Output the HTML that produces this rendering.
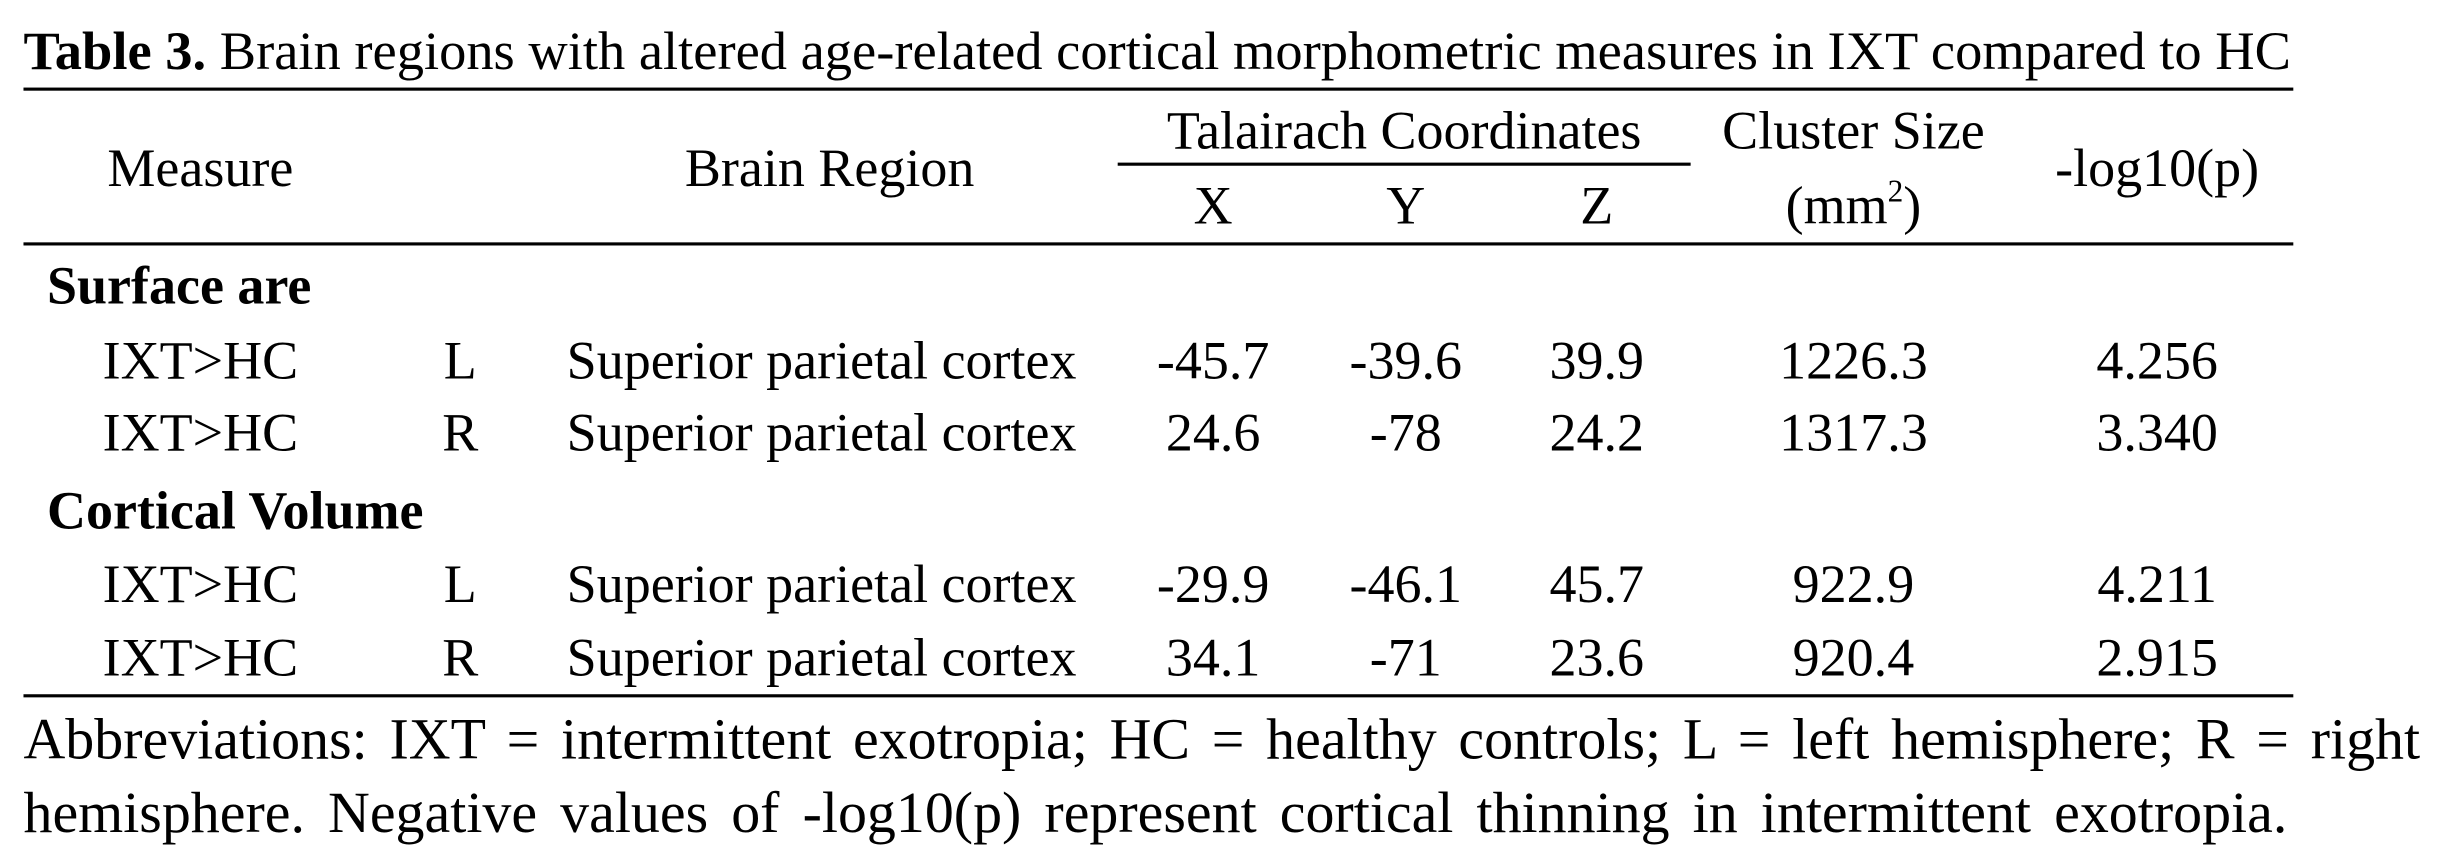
<!DOCTYPE html>
<html><head><meta charset="utf-8"><style>
html,body{margin:0;padding:0;background:#fff;}
#wrap{position:absolute;left:0;top:0;width:1560px;height:550px;transform:scale(1.5654,1.5636);transform-origin:0 0;font-family:"Liberation Serif",serif;color:#000;font-size:34.5px;}
.t{position:absolute;white-space:nowrap;line-height:1;}
.c{transform:translateX(-50%);}
.ln{position:absolute;background:#000;height:1.5px;}
b{font-weight:bold;}
</style></head><body>
<div id="wrap">
<div class="t" style="left:15px;top:16px;font-size:34.8px"><b>Table 3.</b> Brain regions with altered age-related cortical morphometric measures in IXT compared to HC</div>
<div class="ln" style="left:15px;top:56px;width:1450px"></div>

<div class="t c" style="left:128px;top:91px">Measure</div>
<div class="t c" style="left:530px;top:91px">Brain Region</div>
<div class="t c" style="left:897px;top:67px">Talairach Coordinates</div>
<div class="ln" style="left:714px;top:104px;width:366px"></div>
<div class="t c" style="left:775px;top:115px">X</div>
<div class="t c" style="left:898px;top:115px">Y</div>
<div class="t c" style="left:1020px;top:115px">Z</div>
<div class="t c" style="left:1184px;top:67px">Cluster Size</div>
<div class="t c" style="left:1184px;top:115px">(mm<sup style="font-size:20px;vertical-align:14px;line-height:0">2</sup>)</div>
<div class="t c" style="left:1378px;top:91px">-log10(p)</div>
<div class="ln" style="left:15px;top:155px;width:1450px"></div>

<div class="t" style="left:30px;top:166px;font-weight:bold">Surface are</div>
<div class="t" style="left:30px;top:310px;font-weight:bold">Cortical Volume</div>

<div id="rows"></div>
<div class="ln" style="left:15px;top:444px;width:1450px"></div>

<div class="t" style="left:15px;top:455px;width:1531px;font-size:37px;text-align:justify;text-align-last:justify;white-space:normal">Abbreviations: IXT = intermittent exotropia; HC = healthy controls; L = left hemisphere; R = right</div>
<div class="t" style="left:15px;top:502px;font-size:37px;word-spacing:5.5px">hemisphere. Negative values of -log10(p) represent cortical thinning in intermittent exotropia.</div>
</div>
<script>
const rowTops=[214,260,357,404];
const comparisons=["IXT>HC","IXT>HC","IXT>HC","IXT>HC"];
const hemis=["L","R","L","R"];
const regions=["Superior parietal cortex","Superior parietal cortex","Superior parietal cortex","Superior parietal cortex"];
const xs=["-45.7","24.6","-29.9","34.1"];
const ys=["-39.6","-78","-46.1","-71"];
const zs=["39.9","24.2","45.7","23.6"];
const sizes=["1226.3","1317.3","922.9","920.4"];
const logps=["4.256","3.340","4.211","2.915"];
const cont=document.getElementById('rows');
function cell(txt,left,top,center,name){
  const d=document.createElement('div');
  d.className='t'+(center?' c':'');
  d.style.left=left+'px';d.style.top=top+'px';
  d.textContent=txt;
  
  
  cont.appendChild(d);
}
for(let i=0;i<4;i++){
  const t=rowTops[i];
  cell(comparisons[i],128,t,true,'cell-comparison');
  cell(hemis[i],294,t,true,'cell-hemisphere');
  cell(regions[i],362,t,false,'cell-region');
  cell(xs[i],775,t,true,'cell-x');
  cell(ys[i],898,t,true,'cell-y');
  cell(zs[i],1020,t,true,'cell-z');
  cell(sizes[i],1184,t,true,'cell-cluster-size');
  cell(logps[i],1378,t,true,'cell-log10p');
}
</script>
</body></html>
